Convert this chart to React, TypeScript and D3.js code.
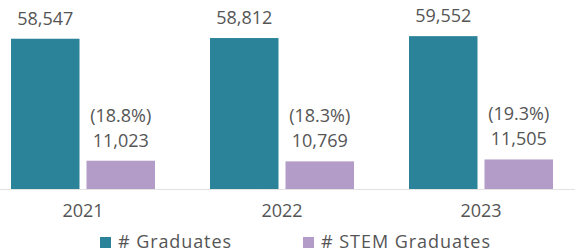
import * as d3 from "d3";

const years = ["2021", "2022", "2023"];
const graduates = [58547, 58812, 59552];
const stemGraduates = [11023, 10769, 11505];
const seriesNames = ["# Graduates", "# STEM Graduates"];

const width = 575,
    height = 252;
const baseline = 189;
const colors = ["#2b8399", "#b39cc8"];
const textColor = "#555";
const font = "'Open Sans', sans-serif";

export default function App() {
    const x = d3.scaleBand<string>()
        .domain(years)
        .range([11, 553])
        .paddingInner(55 / 199)
        .paddingOuter(0);

    const xInner = d3.scaleBand<string>()
        .domain(seriesNames)
        .range([0, x.bandwidth()])
        .paddingInner(0.0927);

    const y = d3.scaleLinear()
        .domain([0, 60000])
        .range([baseline, 35]);

    const fmt = d3.format(",");
    const pct = d3.format(".1%");

    return (
        <svg width={width} height={height}
            style={{ position: "absolute", left: 0, top: 0, background: "#fff" }}
            fontFamily={font}>
            <line x1={0} x2={width} y1={baseline + 0.5} y2={baseline + 0.5} stroke="#e2e2e2" strokeWidth={1} />
            {years.map((yr, i) => {
                const gx = x(yr)!;
                const vals = [graduates[i], stemGraduates[i]];
                return (
                    <g key={yr} transform={`translate(${gx},0)`}>
                        {vals.map((v, j) => {
                            const bx = xInner(seriesNames[j])!;
                            const cx = bx + xInner.bandwidth() / 2;
                            return (
                                <g key={j}>
                                    <rect x={bx} y={y(v)} width={xInner.bandwidth()} height={baseline - y(v)} fill={colors[j]} />
                                    <text x={cx} y={y(v) - 14} textAnchor="middle" fontSize={18} fill={textColor}>{fmt(v)}</text>
                                    {j === 1 && (
                                        <text x={cx} y={y(v) - 39} textAnchor="middle" fontSize={18} fill={textColor}>
                                            ({pct(v / graduates[i])})
                                        </text>
                                    )}
                                </g>
                            );
                        })}
                        <text x={x.bandwidth() / 2} y={217} textAnchor="middle" fontSize={18} fill={textColor}>{yr}</text>
                    </g>
                );
            })}
            <g>
                <rect x={100} y={237} width={11} height={11} fill={colors[0]} />
                <text x={118} y={248} fontSize={18} fill={textColor} textLength={113}>{seriesNames[0]}</text>
                <rect x={303} y={237} width={11} height={11} fill={colors[1]} />
                <text x={321} y={248} fontSize={18} fill={textColor} textLength={169}>{seriesNames[1]}</text>
            </g>
        </svg>
    );
}
